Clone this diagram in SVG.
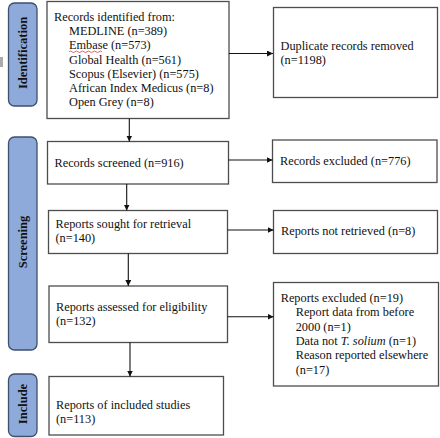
<svg xmlns="http://www.w3.org/2000/svg" width="440" height="438" viewBox="0 0 440 438">
<style>
.box{fill:#fff;stroke:#4d4d4d;stroke-width:1.3}
.pill{fill:#8eaadb;stroke:#3f4f6b;stroke-width:1.3}
.t{font-family:"Liberation Serif","Times New Roman",serif;font-size:12.3px;fill:#111}
.pl{font-family:"Liberation Serif","Times New Roman",serif;font-size:12.5px;font-weight:bold;fill:#111}
.c{stroke:#111;stroke-width:1.1;fill:none;marker-end:url(#ah)}
</style>
<defs>
<marker id="ah" viewBox="0 0 10 10" refX="10" refY="5" markerWidth="6" markerHeight="6" markerUnits="userSpaceOnUse" orient="auto">
<path d="M0,0 L10,5 L0,10 z" fill="#111"/>
</marker>
</defs>
<rect x="0" y="57" width="3" height="10" fill="#aaa"/>
<g id="phase-identification">
<rect class="pill" x="8.5" y="3" width="28.5" height="103" rx="6"/>
<text class="pl" transform="translate(27,53) rotate(-90)" text-anchor="middle">Identification</text>
</g>
<g id="phase-screening">
<rect class="pill" x="8.5" y="137" width="28.5" height="213" rx="6"/>
<text class="pl" transform="translate(27,242) rotate(-90)" text-anchor="middle">Screening</text>
</g>
<g id="phase-include">
<rect class="pill" x="8.5" y="374" width="28.5" height="62.5" rx="6"/>
<text class="pl" transform="translate(27,404) rotate(-90)" text-anchor="middle">Include</text>
</g>
<g id="records-identified">
<rect class="box" x="47" y="1.5" width="182" height="117"/>
<text class="t" x="54" y="20.5">Records identified from:</text>
<text class="t" x="69" y="35">MEDLINE (n=389)</text>
<text class="t" x="69" y="49.2">Embase (n=573)</text>
<path d="M69,51.8 q1.5,-1.5 3,0 t3,0 t3,0 t3,0 t3,0 t3,0 t3,0 t3,0 t3,0 t3,0 t3,0" fill="none" stroke="#e04040" stroke-width="0.8"/>
<text class="t" x="69" y="63.5">Global Health (n=561)</text>
<text class="t" x="69" y="77.8">Scopus (Elsevier) (n=575)</text>
<text class="t" x="69" y="92">African Index Medicus (n=8)</text>
<text class="t" x="69" y="106.3">Open Grey (n=8)</text>
</g>
<g id="duplicates-removed">
<rect class="box" x="273.5" y="7.5" width="164" height="90"/>
<text class="t" x="280.5" y="50">Duplicate records removed</text>
<text class="t" x="280.5" y="64">(n=1198)</text>
</g>
<g id="records-screened">
<rect class="box" x="47.5" y="141.5" width="181" height="42.5"/>
<text class="t" x="54.5" y="167.3">Records screened (n=916)</text>
</g>
<g id="records-excluded">
<rect class="box" x="272.5" y="140" width="164.5" height="42.5"/>
<text class="t" x="280" y="165">Records excluded (n=776)</text>
</g>
<g id="reports-sought">
<rect class="box" x="48.5" y="210.5" width="179" height="43"/>
<text class="t" x="55.5" y="228.3">Reports sought for retrieval</text>
<text class="t" x="55.5" y="241.9">(n=140)</text>
</g>
<g id="reports-not-retrieved">
<rect class="box" x="273.5" y="210.5" width="164" height="43"/>
<text class="t" x="281" y="235">Reports not retrieved (n=8)</text>
</g>
<g id="reports-assessed">
<rect class="box" x="49" y="286" width="178.5" height="56.5"/>
<text class="t" x="56" y="310.5">Reports assessed for eligibility</text>
<text class="t" x="56" y="324.5">(n=132)</text>
</g>
<g id="reports-excluded">
<rect class="box" x="273.5" y="282.5" width="165" height="103.5"/>
<text class="t" x="280.7" y="301.7">Reports excluded (n=19)</text>
<text class="t" x="295.7" y="316">Report data from before</text>
<text class="t" x="295.7" y="330.5">2000 (n=1)</text>
<text class="t" x="295.7" y="345">Data not <tspan font-style="italic">T. solium</tspan> (n=1)</text>
<text class="t" x="295.7" y="359.3">Reason reported elsewhere</text>
<text class="t" x="295.7" y="373.5">(n=17)</text>
</g>
<g id="included-studies">
<rect class="box" x="49" y="376.5" width="174.5" height="58.5"/>
<text class="t" x="56" y="409.2">Reports of included studies</text>
<text class="t" x="56" y="423">(n=113)</text>
</g>
<g id="connectors">
<path class="c" d="M229,53.5 H273"/>
<path class="c" d="M129.3,118.5 V141.5"/>
<path class="c" d="M228.5,160 H272.5"/>
<path class="c" d="M126.7,184 V210.5"/>
<path class="c" d="M227.5,230 H273.5"/>
<path class="c" d="M128.3,253.5 V286"/>
<path class="c" d="M227.5,316.7 H273.5"/>
<path class="c" d="M130,342.5 V376.5"/>
</g>
</svg>
